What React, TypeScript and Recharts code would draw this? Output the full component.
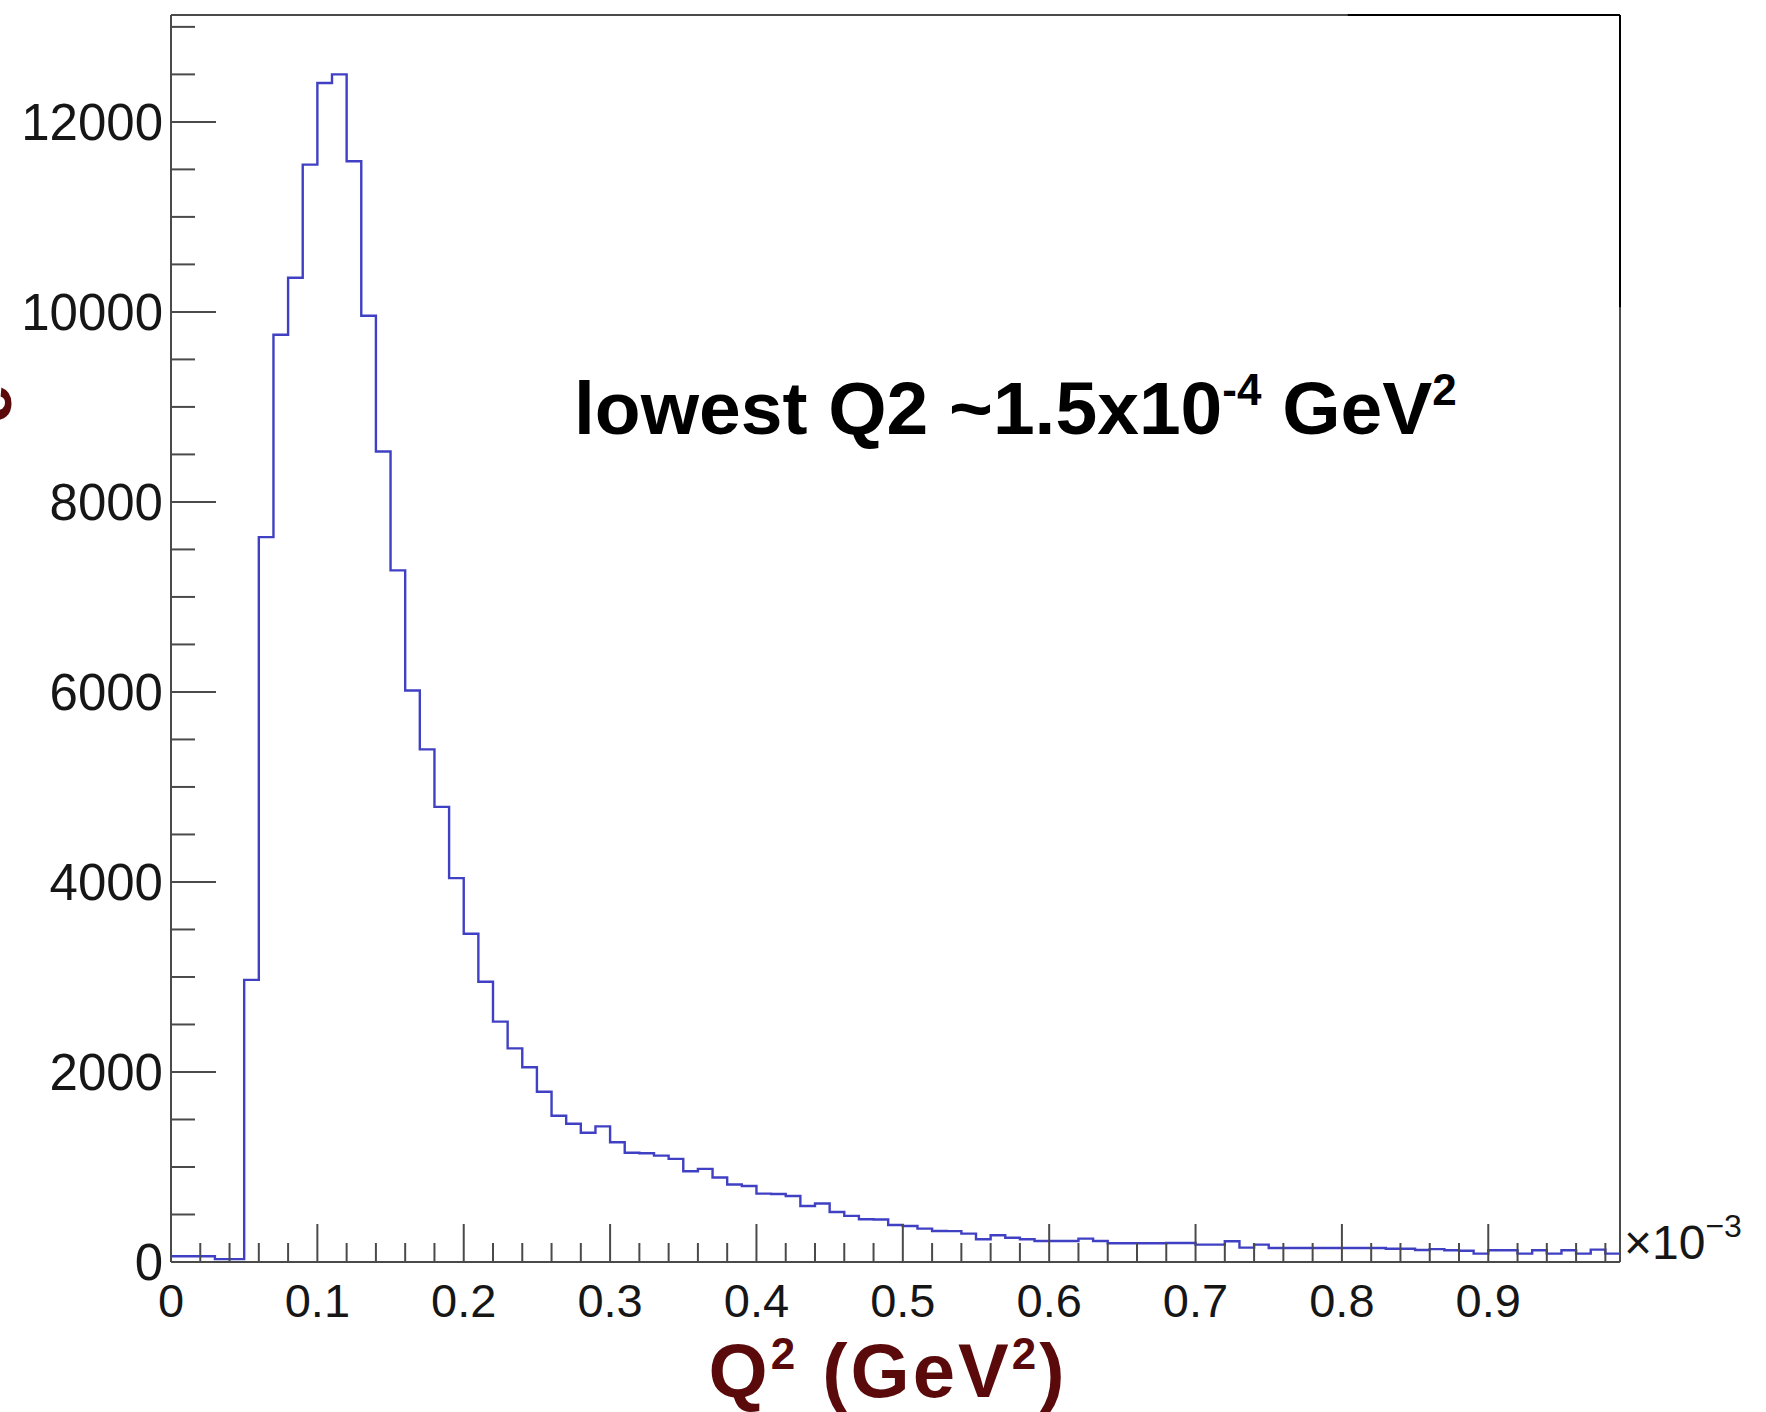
import { LineChart, Line, XAxis, YAxis, ReferenceLine } from 'recharts';

// Q2 histogram, bin width 0.01 (x in units of 1e-3 GeV^2), 99 bins from 0 to 0.99
const binWidth = 0.01;
const counts = [
    60, 60, 60, 30, 30, 2969, 7630, 9760, 10360, 11550,
    12410, 12500, 11585, 9960, 8530, 7280, 6015, 5395, 4790, 4040,
    3455, 2950, 2530, 2248, 2050, 1792, 1540, 1455, 1360, 1428,
    1260, 1150, 1145, 1120, 1085, 955, 980, 890, 815, 800,
    720, 715, 695, 590, 615, 527, 485, 450, 448, 390,
    379, 351, 327, 325, 299, 239, 281, 256, 239, 221,
    221, 221, 246, 221, 197, 197, 197, 197, 200, 200,
    183, 183, 218, 151, 183, 148, 148, 148, 148, 148,
    148, 148, 148, 140, 140, 126, 135, 123, 118, 88,
    123, 123, 88, 123, 88, 123, 88, 130, 88,
];

const xMax = 0.99;
const yMax = 13125;

const xTicks = [
    0, 0.02, 0.04, 0.06, 0.08, 0.1, 0.12, 0.14, 0.16, 0.18,
    0.2, 0.22, 0.24, 0.26, 0.28, 0.3, 0.32, 0.34, 0.36, 0.38,
    0.4, 0.42, 0.44, 0.46, 0.48, 0.5, 0.52, 0.54, 0.56, 0.58,
    0.6, 0.62, 0.64, 0.66, 0.68, 0.7, 0.72, 0.74, 0.76, 0.78,
    0.8, 0.82, 0.84, 0.86, 0.88, 0.9, 0.92, 0.94, 0.96, 0.98,
];
const yTicks = [
    0, 500, 1000, 1500, 2000, 2500, 3000, 3500, 4000, 4500, 5000, 5500, 6000,
    6500, 7000, 7500, 8000, 8500, 9000, 9500, 10000, 10500, 11000, 11500, 12000,
    12500, 13000,
];

// step points at the bin low edges, plus the last edge to close the last bin
const histData = counts.map((c, i) => ({ x: +(i * binWidth).toFixed(2), count: c }));
histData.push({ x: xMax, count: counts[counts.length - 1] });

const FONT = '"Liberation Sans", Arial, Helvetica, sans-serif';
const AXIS = '#4a4a4a';
const TITLE_RED = '#5a0a0a';

const isMajorX = (v: number) => Math.abs(v * 10 - Math.round(v * 10)) < 1e-6;

function XTick(props: any) {
    const { x, y, payload } = props;
    const v = payload.value;
    const major = isMajorX(v);
    return (
        <g>
            <line x1={x} y1={y} x2={x} y2={y - (major ? 38 : 19)} stroke={AXIS} strokeWidth={2} />
            {major && (
                <text x={x} y={y + 55} textAnchor="middle" fontSize={47} fill="#161616" fontFamily={FONT}>
                    {v === 0 ? '0' : v.toFixed(1)}
                </text>
            )}
        </g>
    );
}

function YTick(props: any) {
    const { x, y, payload } = props;
    const v = payload.value;
    const major = v % 2000 === 0;
    return (
        <g>
            <line x1={x} y1={y} x2={x + (major ? 45 : 24)} y2={y} stroke={AXIS} strokeWidth={2} />
            {major && (
                <text x={x - 8} y={y} dy="0.36em" textAnchor="end" fontSize={51} fill="#161616" fontFamily={FONT}>
                    {v}
                </text>
            )}
        </g>
    );
}

export default function App() {
    return (
        <div style={{ position: 'absolute', left: 0, top: 0, width: 1766, height: 1412, background: '#fff' }}>
            <LineChart
                width={1766}
                height={1412}
                data={histData}
                margin={{ top: 15, right: 146, bottom: 0, left: 0 }}
            >
                <XAxis
                    dataKey="x"
                    type="number"
                    domain={[0, xMax]}
                    ticks={xTicks}
                    interval={0}
                    height={150}
                    tickSize={0}
                    tickMargin={0}
                    tickLine={false}
                    axisLine={{ stroke: AXIS, strokeWidth: 2 }}
                    tick={<XTick />}
                />
                <YAxis
                    type="number"
                    domain={[0, yMax]}
                    ticks={yTicks}
                    interval={0}
                    width={171}
                    tickSize={0}
                    tickMargin={0}
                    tickLine={false}
                    axisLine={{ stroke: AXIS, strokeWidth: 2 }}
                    tick={<YTick />}
                />
                {/* frame */}
                <ReferenceLine y={yMax} stroke={AXIS} strokeWidth={2} />
                <ReferenceLine x={xMax} stroke={AXIS} strokeWidth={2} />
                <ReferenceLine segment={[{ x: 0.804, y: yMax }, { x: xMax, y: yMax }]} stroke="#000" strokeWidth={2} />
                <ReferenceLine segment={[{ x: xMax, y: 10050 }, { x: xMax, y: yMax }]} stroke="#000" strokeWidth={2} />
                <Line
                    dataKey="count"
                    type="stepAfter"
                    stroke="#4040c4"
                    strokeWidth={2.4}
                    dot={false}
                    activeDot={false}
                    isAnimationActive={false}
                />
            </LineChart>
            <svg
                width={1766}
                height={1412}
                style={{ position: 'absolute', left: 0, top: 0, pointerEvents: 'none' }}
            >
                <text x={574} y={434} fontSize={75} fontWeight="bold" fill="#000" fontFamily={FONT}>
                    lowest Q2 ~1.5x10
                    <tspan dy={-29} fontSize={44}>-4</tspan>
                    <tspan dy={29} fontSize={75}> GeV</tspan>
                    <tspan dy={-29} fontSize={44}>2</tspan>
                </text>
                <text x={888} y={1397} textAnchor="middle" fontSize={76} fontWeight="bold" letterSpacing={3} fill={TITLE_RED} fontFamily={FONT}>
                    Q<tspan dy={-28} fontSize={44}>2</tspan>
                    <tspan dy={28} fontSize={76}> (GeV</tspan>
                    <tspan dy={-28} fontSize={44}>2</tspan>
                    <tspan dy={28} fontSize={76}>)</tspan>
                </text>
                <text x={1624} y={1259} fontSize={48} fill="#161616" fontFamily={FONT}>
                    ×10<tspan dy={-22} fontSize={32}>−3</tspan>
                </text>
                <text transform="translate(11, 404) rotate(-90)" textAnchor="middle" fontSize={70} fontWeight="bold" fill={TITLE_RED} fontFamily={FONT}>
                    e
                </text>
            </svg>
        </div>
    );
}
